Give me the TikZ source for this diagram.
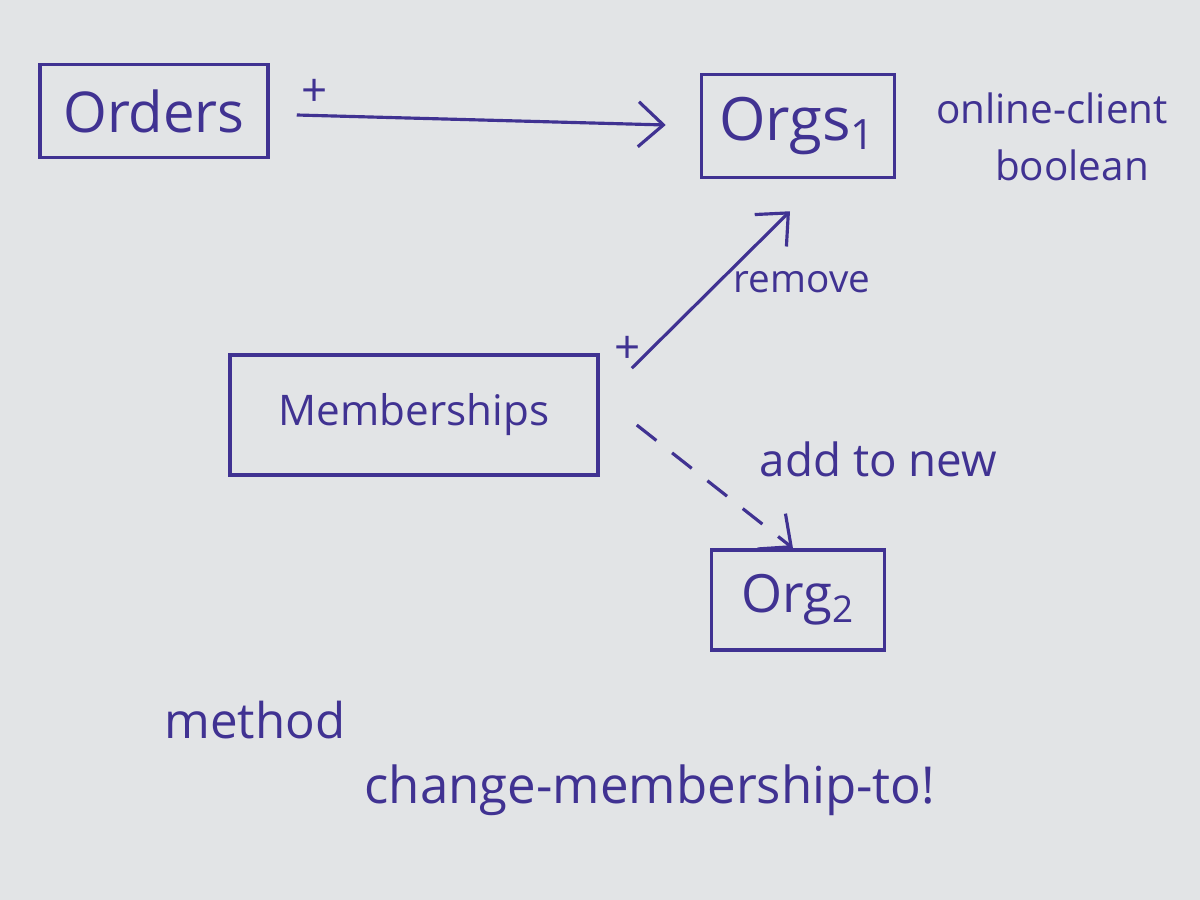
\documentclass[tikz,border=0pt]{standalone}
\usepackage{fontspec}
\setmainfont{Open Sans}
\definecolor{PenInk}{RGB}{64,50,146}
\definecolor{PaperGray}{RGB}{226,228,230}
\usetikzlibrary{
    arrows.meta,
    positioning,
    calc,
}
\tikzset{
    entity/.style={rectangle, draw=PenInk, line width=1pt, text=PenInk, inner sep=2pt},
    link/.style={draw=PenInk, line width=0.9pt, -{Straight Barb[length=2.5mm,width=4.5mm]}},
    dashlink/.style={link, dash pattern=on 2.5mm off 2mm},
    note/.style={text=PenInk, inner sep=1pt, font=\fontsize{13}{15}\selectfont},
}

\begin{document}
\begin{tikzpicture}
    % paper
    \fill[PaperGray] (0,0) rectangle (12,9);
    \useasboundingbox (0,0) rectangle (12,9);

    % tables
    \node[entity, minimum width=2.28cm, minimum height=0.93cm, font=\fontsize{16}{18}\selectfont] (orders) at (1.54,7.89) {Orders};
    \node[entity, minimum width=1.93cm, minimum height=1.03cm, font=\fontsize{17}{19}\selectfont] (orgs) at (7.98,7.74) {Orgs\textsubscript{1}};
    \node[entity, minimum width=3.68cm, minimum height=1.2cm, font=\fontsize{12}{14}\selectfont] (members) at (4.14,4.85) {Memberships};
    \node[entity, minimum width=1.73cm, minimum height=1.0cm, font=\fontsize{15}{17}\selectfont] (orgtwo) at (7.98,3.0) {Org\textsubscript{2}};

    % connectors
    \draw[link] ([shift={(0.27,-0.04)}]orders.east)
        -- node[note, pos=0, above right=1pt and 0pt] {+}
        ([shift={(-0.34,0.01)}]orgs.west);
    \draw[link] ([shift={(0.32,-0.15)}]members.north east)
        -- node[note, pos=0, above left=0pt and -4pt] {+}
           node[note, pos=0.55, right=1mm, font=\fontsize{11}{13}\selectfont] {remove}
        ([shift={(-0.08,-0.32)}]orgs.south);
    \draw[dashlink] ([shift={(0.37,-0.1)}]members.east)
        -- node[note, pos=0.5, above right=0.05cm and 0.4cm] {add to new}
        ([shift={(-0.05,0)}]orgtwo.north);

    % notes
    \node[note, font=\fontsize{11.5}{13}\selectfont] (client) at (10.52,7.92) {online-client};
    \node[note, font=\fontsize{11.5}{13}\selectfont] (flag) at (10.72,7.35) {boolean};
    \node[note, font=\fontsize{14}{16}\selectfont] (method) at (2.55,1.8) {method};
    \node[note, font=\fontsize{14.5}{17}\selectfont] (methodname) at (6.5,1.1) {change-membership-to!};
\end{tikzpicture}
\end{document}
